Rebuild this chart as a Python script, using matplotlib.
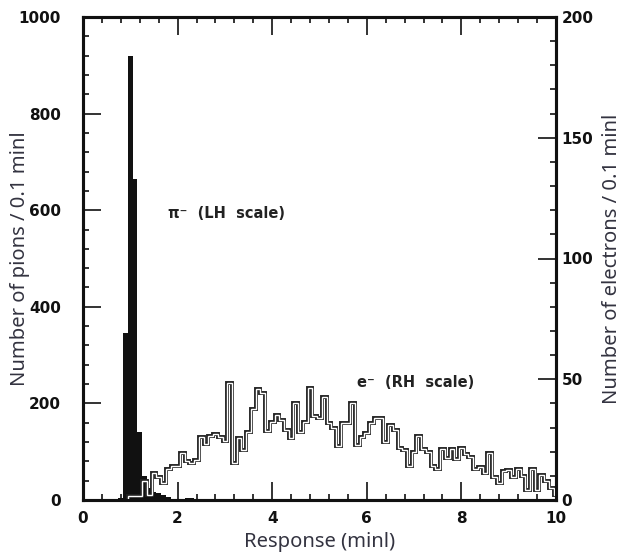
import numpy as np
import matplotlib.pyplot as plt
from matplotlib.ticker import MultipleLocator

# pion counts per 0.1 minl bin (LH scale), first bin centred at 0.8
pion_start = 0.8
pion_counts = [5, 345, 920, 665, 140, 50, 25, 16, 14, 10, 7, 3, 2, 2, 4, 4, 1]

# electron counts per 0.1 minl bin (RH scale), first bin centred at 1.0
elec_start = 1.0
elec_counts = [1.5, 1.5, 1.5, 8, 2, 11, 9.5, 7, 13, 14,
               14, 19.5, 16, 15.5, 16.5, 26, 23, 26.5, 27.5, 26,
               24.5, 48.5, 15.5, 25.5, 20.5, 28, 37.5, 46, 44.5, 28.5,
               32.4, 35, 33, 29, 25.5, 40, 28, 32.4, 46.5, 34.7,
               33.8, 42.5, 32, 30, 22.4, 31.7, 32, 40.3, 22.8, 26.2,
               27.6, 31.7, 34, 34, 24.2, 31, 29, 21.4, 20.7, 14,
               20, 26.5, 21, 20, 14, 13, 21, 17.5, 21, 17,
               21.4, 19, 18, 13, 13.5, 11, 19.5, 9.5, 7, 12,
               12.5, 9.5, 12.7, 10, 4, 13, 4, 10.5, 8, 5, 2]

xticks = [0, 2, 4, 6, 8, 10]
left_ticks = [0, 200, 400, 600, 800, 1000]
right_ticks = [0, 50, 100, 150, 200]

w = 0.1
pion_edges = pion_start - w / 2 + w * np.arange(len(pion_counts) + 1)
elec_edges = elec_start - w / 2 + w * np.arange(len(elec_counts) + 1)

fig = plt.figure(figsize=(6.29, 5.56), dpi=100)
ax = fig.add_axes([83 / 629, 56 / 556, 473 / 629, 483 / 556])
ax2 = ax.twinx()

ax.stairs(pion_counts, pion_edges, fill=True, color='#111111', lw=0)
ax2.stairs(elec_counts, elec_edges, color='#222222', lw=2.8)
ax2.stairs(elec_counts, elec_edges, color='white', lw=1.0)

ax.set_xlim(0, 10)
ax.set_ylim(0, 1000)
ax2.set_ylim(0, 200)

tickfont = dict(family='DejaVu Sans', weight='bold', size=11)
labfont = dict(family='Noto Sans', size=14.5, color='#333340')

ax.set_xticks(xticks)
ax.set_xticklabels([str(t) for t in xticks], fontdict=tickfont)
ax.set_yticks(left_ticks)
ax.set_yticklabels([str(t) for t in left_ticks], fontdict=tickfont)
ax2.set_yticks(right_ticks)
ax2.set_yticklabels([str(t) for t in right_ticks], fontdict=tickfont)
ax.xaxis.set_minor_locator(MultipleLocator(0.4))
ax.yaxis.set_minor_locator(MultipleLocator(40))
ax2.yaxis.set_minor_locator(MultipleLocator(10))

ax.tick_params(which='both', direction='in', top=True, right=False, width=1.2, colors='#111111')
ax.tick_params(which='major', length=13)
ax.tick_params(which='minor', length=4.5)
ax.tick_params(axis='y', pad=16)
ax.tick_params(axis='x', pad=8)
ax2.tick_params(which='both', direction='in', width=1.2, colors='#111111', pad=4)
ax2.tick_params(which='major', length=13)
ax2.tick_params(which='minor', length=4.5)

for a in (ax, ax2):
    for s in a.spines.values():
        s.set_linewidth(2.2)
        s.set_color('#111111')

ax.set_xlabel('Response (minl)', **labfont)
ax.set_ylabel('Number of pions / 0.1 minl', **labfont)
ax2.set_ylabel('Number of electrons / 0.1 minl', **labfont)
ax.xaxis.set_label_coords(0.5, -0.066)
ax.yaxis.set_label_coords(-0.112, 0.5)
ax2.yaxis.set_label_coords(1.098, 0.5)

ax.text(1.8, 593, 'π⁻  (LH  scale)', family='DejaVu Sans', weight='semibold',
        size=10.5, color='#222222', va='center')
ax.text(5.8, 244, 'e⁻  (RH  scale)', family='DejaVu Sans', weight='semibold',
        size=10.5, color='#222222', va='center')

fig.savefig('out.png', dpi=100)
